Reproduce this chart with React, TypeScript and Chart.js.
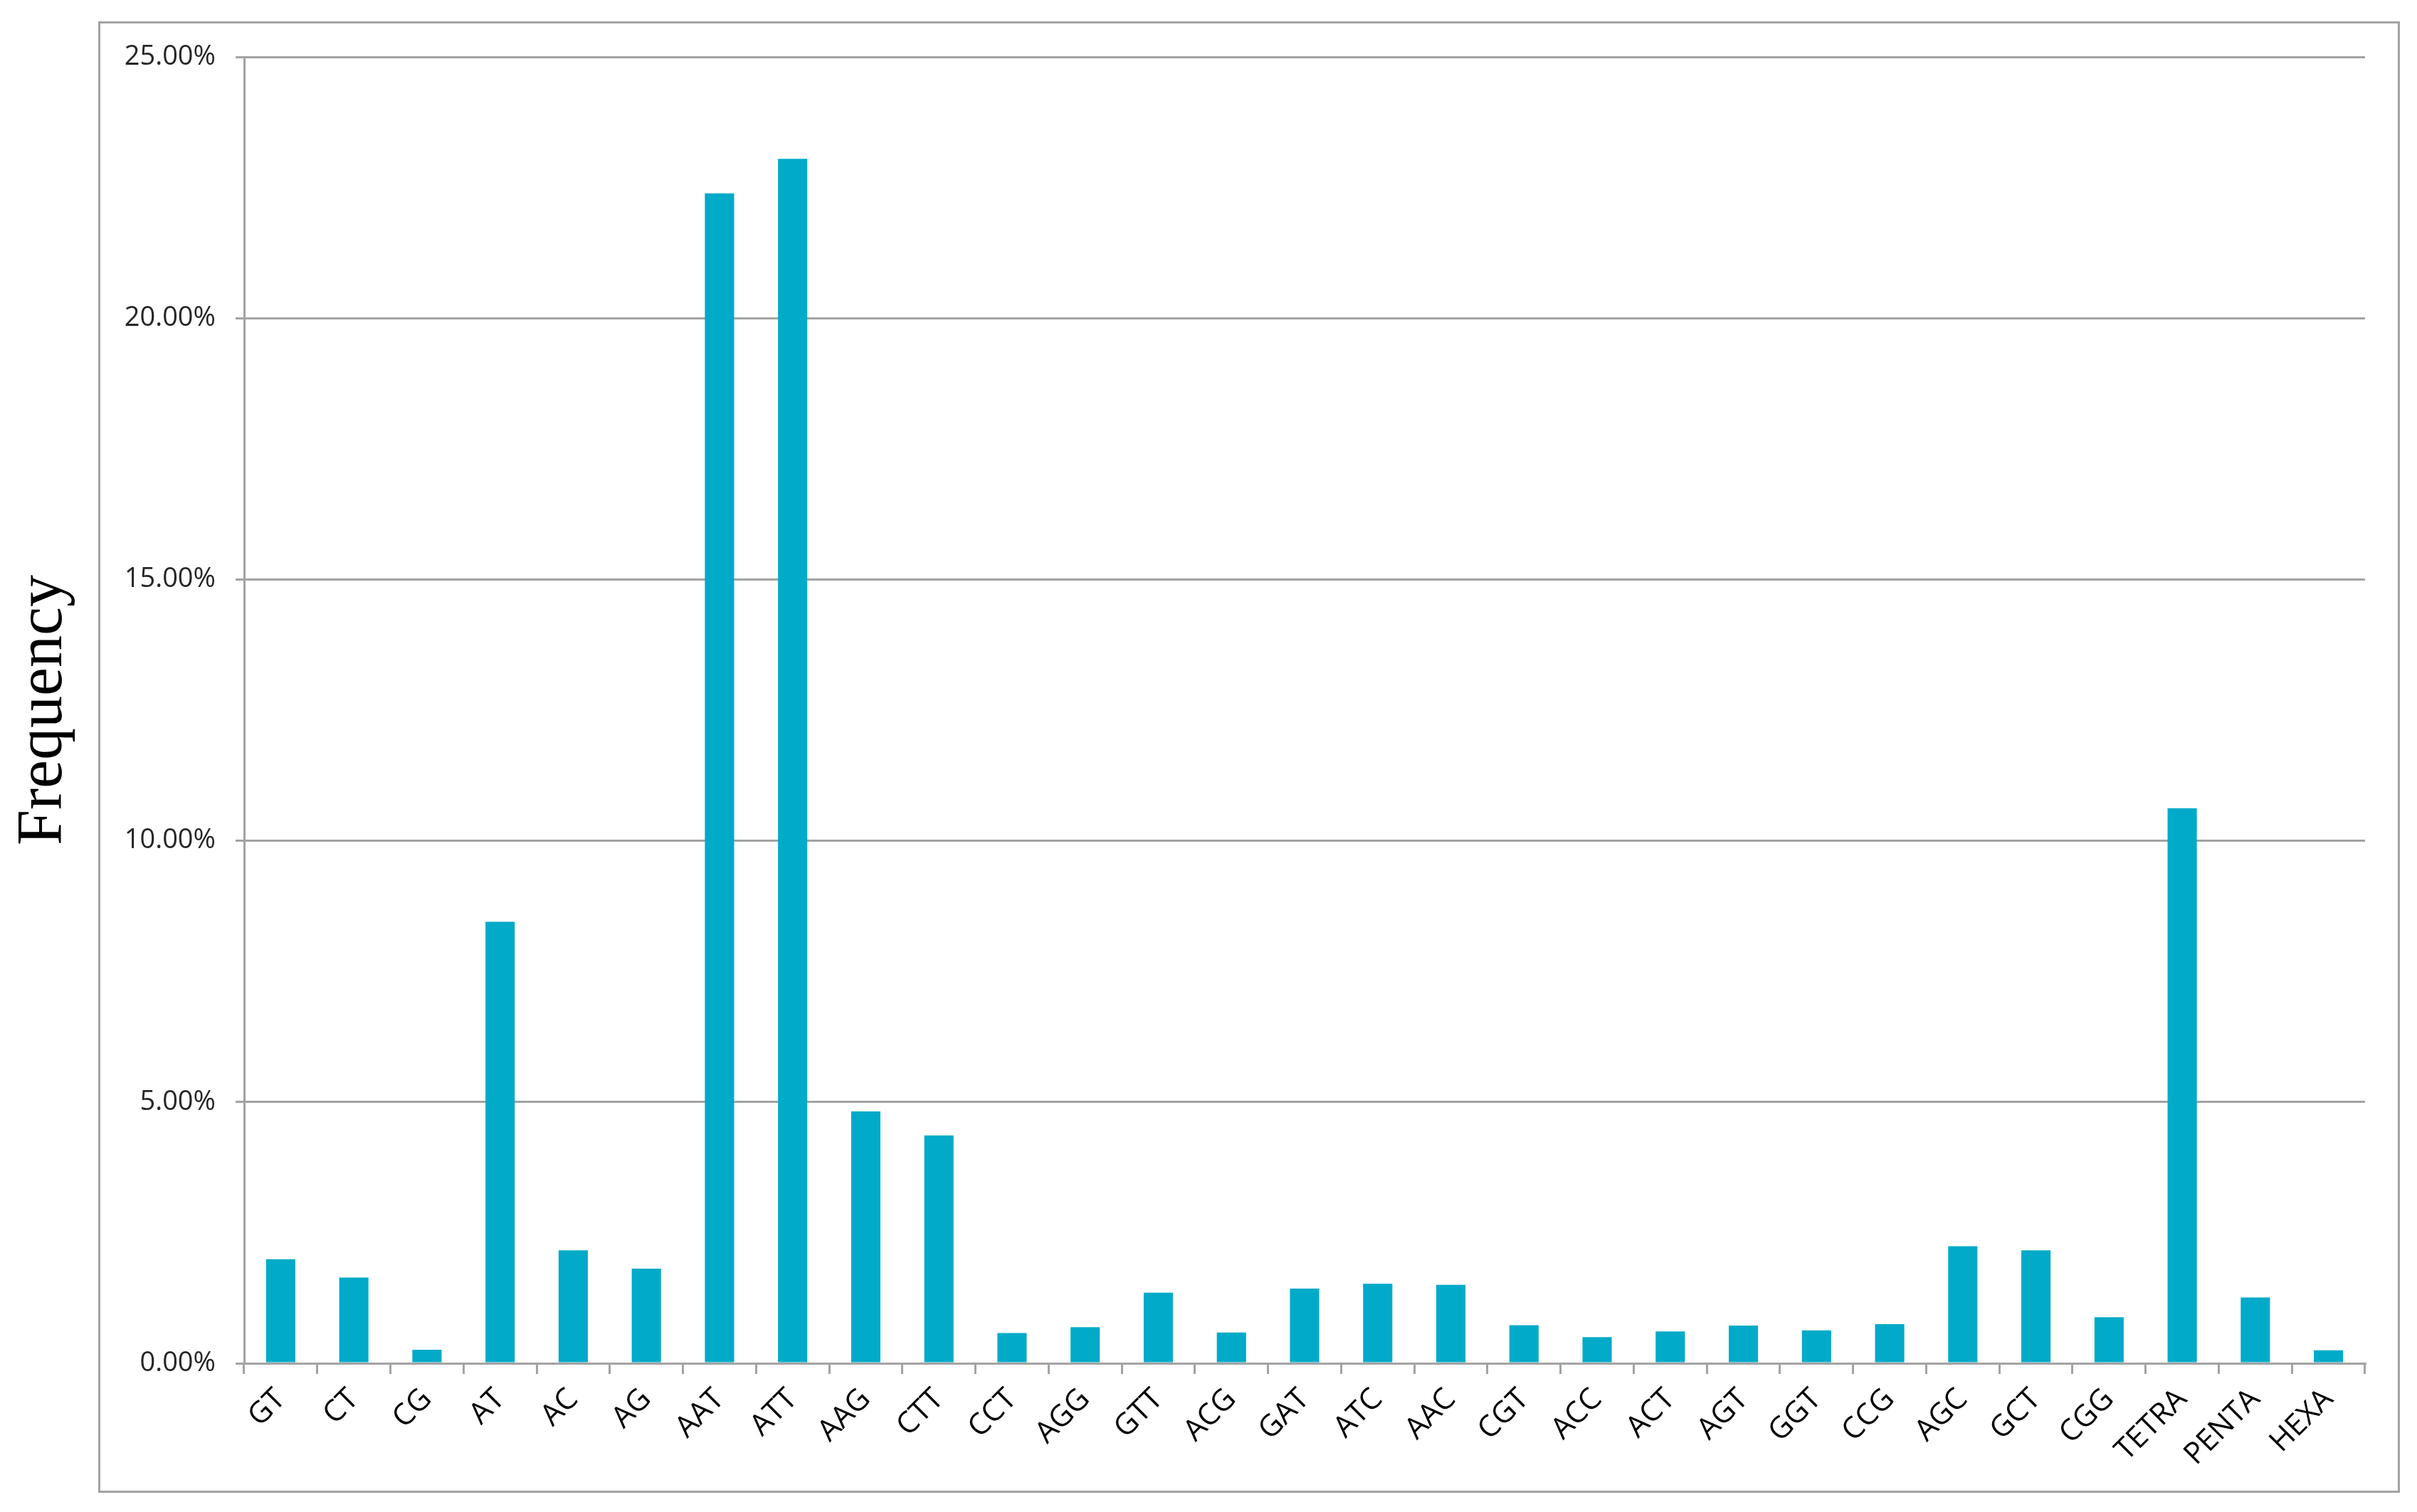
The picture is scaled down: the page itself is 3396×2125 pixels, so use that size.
import React, { useEffect, useRef } from 'react';
import { Chart, registerables } from 'chart.js';

Chart.register(...registerables);

const categories = ['GT', 'CT', 'CG', 'AT', 'AC', 'AG', 'AAT', 'ATT', 'AAG', 'CTT', 'CCT', 'AGG', 'GTT', 'ACG', 'GAT', 'ATC', 'AAC', 'CGT', 'ACC', 'ACT', 'AGT', 'GGT', 'CCG', 'AGC', 'GCT', 'CGG', 'TETRA', 'PENTA', 'HEXA'];
const frequencies = [1.99, 1.64, 0.26, 8.45, 2.16, 1.81, 22.39, 23.05, 4.82, 4.36, 0.58, 0.69, 1.35, 0.59, 1.43, 1.52, 1.50, 0.73, 0.50, 0.61, 0.72, 0.63, 0.75, 2.24, 2.16, 0.88, 10.62, 1.26, 0.25];
const yMin = 0;
const yMax = 25;
const yStep = 5;
const yTitle = 'Frequency';

const W = 3396;
const H = 2125;
const GRID = '#a3a3a3';
const BAR = '#00aac8';

const outerBorder = {
  id: 'outerBorder',
  afterDraw(chart: any) {
    const ctx = chart.ctx;
    ctx.save();
    ctx.strokeStyle = GRID;
    ctx.lineWidth = 3;
    ctx.strokeRect(139.5, 31.5, 3231, 2065);
    ctx.restore();
  },
};

export default function App() {
  const ref = useRef<HTMLCanvasElement>(null);

  useEffect(() => {
    if (!ref.current) return;
    const chart = new Chart(ref.current, {
      type: 'bar',
      data: {
        labels: categories,
        datasets: [
          {
            data: frequencies,
            backgroundColor: BAR,
            borderWidth: 0,
            barPercentage: 0.4,
            categoryPercentage: 1,
          },
        ],
      },
      options: {
        responsive: false,
        animation: false,
        devicePixelRatio: 1,
        layout: { padding: { left: 0, right: 73, top: 80, bottom: 59 } },
        plugins: { legend: { display: false }, tooltip: { enabled: false } },
        scales: {
          x: {
            offset: true,
            afterFit: (s: any) => { s.height = 150; },
            grid: {
              offset: true,
              drawOnChartArea: false,
              drawTicks: true,
              tickLength: 15,
              color: GRID,
              lineWidth: 3,
            },
            border: { display: true, color: GRID, width: 3 },
            ticks: {
              autoSkip: false,
              minRotation: 45,
              maxRotation: 45,
              padding: 11,
              color: '#000000',
              font: { family: 'Open Sans', size: 42 },
            },
          },
          y: {
            min: yMin,
            max: yMax,
            afterFit: (s: any) => { s.width = 343; },
            grid: {
              color: GRID,
              lineWidth: 3,
              drawTicks: true,
              tickLength: 12,
            },
            border: { display: true, color: GRID, width: 3 },
            ticks: {
              stepSize: yStep,
              padding: 28,
              color: '#262626',
              font: { family: 'Open Sans', size: 38 },
              callback: (v: any) => Number(v).toFixed(2) + '%',
            },
            title: {
              display: true,
              text: yTitle,
              color: '#000000',
              font: { family: 'Liberation Serif', size: 90 },
              padding: { top: 8, bottom: 0 },
            },
          },
        },
      },
      plugins: [outerBorder],
    });
    return () => chart.destroy();
  }, []);

  return (
    <div style={{ position: 'absolute', left: 0, top: 0, width: W, height: H, background: '#ffffff' }}>
      <canvas ref={ref} width={W} height={H} style={{ display: 'block' }} />
    </div>
  );
}
